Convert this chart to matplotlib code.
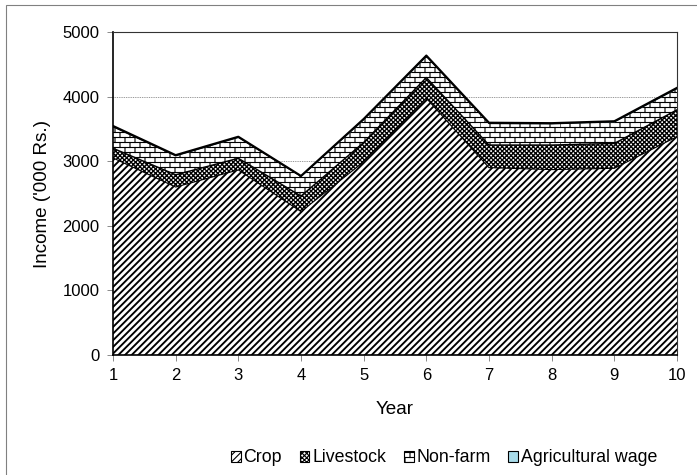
import warnings
import numpy as np
import matplotlib
matplotlib.use("Agg")
import matplotlib.pyplot as plt
import matplotlib.hatch as mhatch
from matplotlib.path import Path
from matplotlib.patches import Rectangle

warnings.filterwarnings("ignore", message=".*hatch must consist.*")

# Household income by source over ten years ('000 Rs.)
years = [1, 2, 3, 4, 5, 6, 7, 8, 9, 10]
crop = [3050, 2600, 2865, 2220, 2990, 3975, 2900, 2870, 2890, 3380]
livestock = [150, 190, 180, 240, 300, 320, 350, 380, 385, 415]
non_farm = [335, 295, 325, 305, 355, 330, 335, 330, 335, 330]
ag_wage = [12, 10, 10, 8, 10, 12, 12, 10, 10, 12]
labels = ["Crop", "Livestock", "Non-farm", "Agricultural wage"]


class BrickHatch(mhatch.HatchPatternBase):
    """Brick-wall hatch, selected with the letter 'b'."""

    def __init__(self, hatch, density):
        self.segments = []
        if "b" in hatch:
            rows, cols = 16, 8
            for i in range(rows):
                y0 = (i + 0.5) / rows
                y1 = (i + 1.5) / rows
                self.segments.append(((0, y0), (1, y0)))
                for j in range(cols):
                    x = (j + 0.5 * (i % 2)) / cols
                    self.segments.append(((x, y0), (x, min(y1, 1))))
                    if y1 > 1:
                        self.segments.append(((x, 0), (x, y1 - 1)))
        self.num_vertices = 2 * len(self.segments)

    def set_vertices_and_codes(self, vertices, codes):
        vertices[:] = np.array(self.segments, dtype=float).reshape(-1, 2)
        codes[0::2] = Path.MOVETO
        codes[1::2] = Path.LINETO


mhatch._hatch_types.append(BrickHatch)

plt.rcParams["font.family"] = ["Liberation Sans", "DejaVu Sans"]

dpi = 80
fig = plt.figure(figsize=(697 / dpi, 475 / dpi), dpi=dpi)
ax = fig.add_axes([113 / 697, 1 - 355 / 475, 564 / 697, 323 / 475])

x = np.array(years)
s1 = np.array(crop)
s2 = s1 + np.array(livestock)
s3 = s2 + np.array(non_farm)
s4 = s3 + np.array(ag_wage)

styles = [
    dict(facecolor="white", hatch="////", hlw=1.7),
    dict(facecolor="white", hatch="xxxxxx", hlw=1.2),
    dict(facecolor="white", hatch="b", hlw=1.0),
    dict(facecolor="#a9dcea", hatch=None, hlw=1.0),
]
bounds = [(0, s1), (s1, s2), (s2, s3), (s3, s4)]

handles = []
for (lo, hi), st, lab in zip(bounds, styles, labels):
    plt.rcParams["hatch.linewidth"] = st["hlw"]
    ax.fill_between(x, lo, hi, facecolor=st["facecolor"], edgecolor="black",
                    hatch=st["hatch"], linewidth=0)
    plt.rcParams["hatch.linewidth"] = min(st["hlw"], 1.2)
    handles.append(Rectangle((0, 0), 1, 1, facecolor=st["facecolor"], edgecolor="black",
                             hatch=st["hatch"], linewidth=1.0, label=lab))

ax.plot(x, s1, color="black", lw=1.0)
ax.plot(x, s2, color="black", lw=1.3)
ax.plot(x, s3, color="black", lw=1.3)
ax.plot(x, s4, color="black", lw=1.8)

ax.set_xlim(1, 10)
ax.set_ylim(0, 5000)
ax.set_xticks(years)
ax.set_yticks(np.arange(0, 5001, 1000))
ax.set_axisbelow(True)
ax.yaxis.grid(True, color="#808080", linestyle=(0, (1, 1)), linewidth=0.8)

for side in ["left", "bottom"]:
    ax.spines[side].set_linewidth(1.5)
    ax.spines[side].set_color("black")
for side in ["top", "right"]:
    ax.spines[side].set_linewidth(1.0)
    ax.spines[side].set_color("#333333")

ax.tick_params(axis="both", direction="out", length=5, width=0.8, color="#808080",
               labelsize=15, pad=7)
ax.set_xlabel("Year", fontsize=17, labelpad=16)
ax.set_ylabel("Income ('000 Rs.)", fontsize=17, labelpad=10)

fig.legend(handles=handles, labels=labels, loc="center",
           bbox_to_anchor=(444 / 697, 1 - 458 / 475), ncol=4, frameon=False,
           fontsize=16, handlelength=0.55, handleheight=0.55, handletextpad=0.15,
           columnspacing=1.0)

# chart area border
fig.patches.append(Rectangle((6 / 697, -0.1), 1.2, 1.1 - 5 / 475, transform=fig.transFigure,
                             fill=False, edgecolor="#808080", linewidth=1.0))

fig.savefig("out.png", dpi=dpi)
